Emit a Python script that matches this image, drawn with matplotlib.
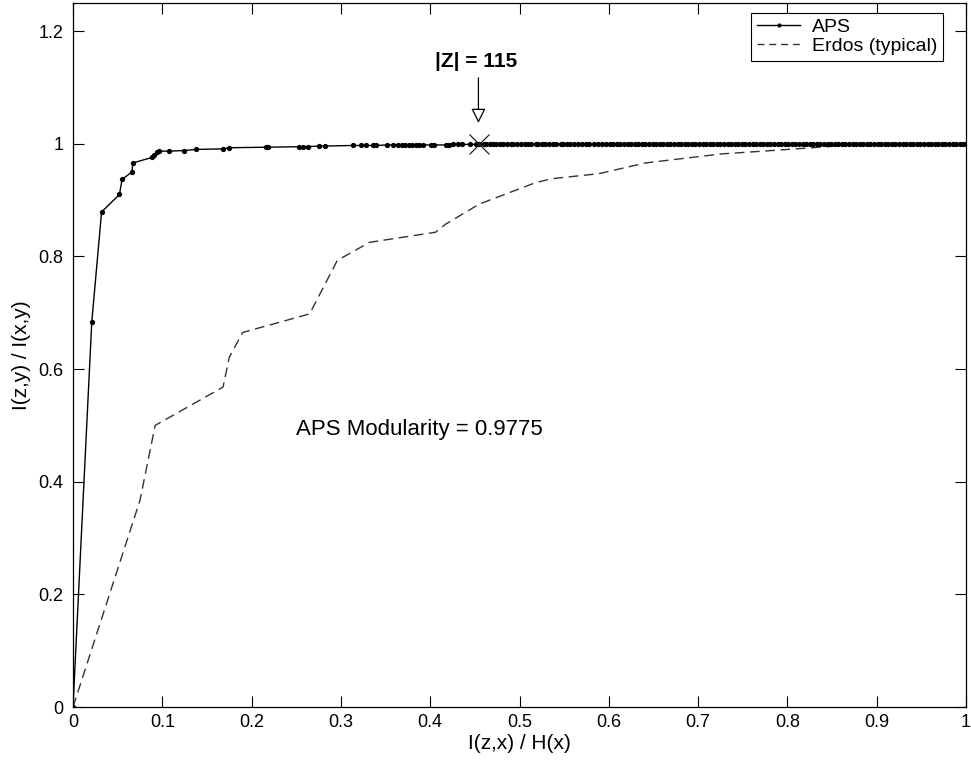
import numpy as np
import matplotlib
matplotlib.use("Agg")
import matplotlib.pyplot as plt

plt.rcParams['font.family'] = ['Liberation Sans', 'DejaVu Sans']

# APS curve, sparse head (read point by point)
aps_x = [0, 0.021, 0.032, 0.052, 0.055, 0.066, 0.067, 0.089, 0.091, 0.094,
         0.096, 0.107, 0.124, 0.138, 0.168, 0.175, 0.216, 0.218, 0.253, 0.257,
         0.263, 0.276, 0.282, 0.313, 0.323, 0.328, 0.336, 0.339, 0.352, 0.358,
         0.364, 0.368, 0.372, 0.376, 0.380, 0.384, 0.388, 0.392, 0.401, 0.404,
         0.418, 0.421, 0.425, 0.431, 0.436, 0.445, 0.451, 0.455]
aps_y = [0, 0.683, 0.879, 0.910, 0.937, 0.950, 0.966, 0.976, 0.980, 0.985,
         0.987, 0.987, 0.988, 0.990, 0.991, 0.993, 0.994, 0.994, 0.995, 0.995,
         0.995, 0.996, 0.996, 0.997, 0.997, 0.997, 0.997, 0.997, 0.998, 0.998,
         0.998, 0.998, 0.998, 0.998, 0.998, 0.998, 0.998, 0.998, 0.998, 0.998,
         0.998, 0.998, 0.999, 0.999, 0.999, 0.999, 0.999, 0.999]

# APS dense tail: stretches of dots, each sitting at one level
tail_x_a = [0.460, 0.463, 0.467, 0.470, 0.474, 0.478, 0.481, 0.486, 0.490, 0.493,
            0.497, 0.502, 0.506, 0.509, 0.513, 0.518, 0.521, 0.525, 0.529, 0.533,
            0.537, 0.541, 0.546, 0.549, 0.553, 0.557, 0.561, 0.566, 0.570, 0.574,
            0.578, 0.583, 0.588, 0.592, 0.597]
tail_y_a = 0.999
tail_x_b = [0.601, 0.605, 0.609, 0.613, 0.617, 0.621, 0.625, 0.629, 0.633, 0.637,
            0.641, 0.645, 0.649, 0.653, 0.657, 0.661, 0.665, 0.669, 0.673, 0.677,
            0.681, 0.685, 0.689, 0.693, 0.697, 0.701, 0.705, 0.709, 0.713, 0.717,
            0.721, 0.725, 0.729, 0.733, 0.737, 0.741, 0.745, 0.749, 0.753, 0.757,
            0.761, 0.765, 0.769, 0.773, 0.777, 0.781, 0.785, 0.789, 0.793, 0.797,
            0.801, 0.805, 0.809, 0.813, 0.817, 0.821, 0.825, 0.829, 0.833, 0.837,
            0.841, 0.845, 0.849, 0.853, 0.857, 0.861, 0.865, 0.869, 0.873, 0.877,
            0.881, 0.885, 0.889, 0.893, 0.897, 0.901, 0.905, 0.909, 0.913, 0.917,
            0.921, 0.925, 0.929, 0.933, 0.937, 0.941, 0.945, 0.949, 0.953, 0.957,
            0.961, 0.965, 0.969, 0.973, 0.977, 0.981, 0.985, 0.989, 0.993, 0.997,
            1.0]
tail_y_b = 1.0

# Erdos (typical) curve
erdos_x = [0, 0.075, 0.092, 0.168, 0.175, 0.190, 0.265, 0.296, 0.332, 0.406,
           0.417, 0.455, 0.518, 0.536, 0.589, 0.641, 0.726, 0.782, 0.846, 0.870, 1.0]
erdos_y = [0, 0.367, 0.500, 0.568, 0.621, 0.665, 0.698, 0.793, 0.825, 0.843,
           0.857, 0.893, 0.931, 0.938, 0.947, 0.966, 0.982, 0.988, 0.995, 1.0, 1.0]

z_point = (0.455, 1.0)
modularity_text = "APS Modularity = 0.9775"
z_text = "|Z| = 115"

x_all = np.concatenate([aps_x, tail_x_a, tail_x_b])
y_all = np.concatenate([aps_y,
                        np.full(len(tail_x_a), tail_y_a),
                        np.full(len(tail_x_b), tail_y_b)])

fig = plt.figure(figsize=(9.71, 7.74), dpi=100)
ax = fig.add_axes([73 / 971, 1 - 707 / 774, 893 / 971, 704 / 774])

ax.plot(erdos_x, erdos_y, color='#333333', lw=1.0, dashes=(7, 4),
        label='Erdos (typical)', zorder=2)
ax.plot(x_all, y_all, color='black', lw=1.0, marker='o', markersize=3.8,
        mew=0, label='APS', zorder=3)
ax.plot(*z_point, marker='x', markersize=14, mew=0.9, color='#222222', zorder=4)

ax.annotate('', xy=(0.454, 1.037), xytext=(0.454, 1.117),
            arrowprops=dict(arrowstyle='-|>', fc='white', ec='black', lw=0.9,
                            mutation_scale=22, shrinkA=0, shrinkB=0))
ax.text(0.451, 1.147, z_text, ha='center', va='center', fontsize=15,
        fontweight='bold')
ax.text(0.250, 0.492, modularity_text, ha='left', va='center', fontsize=16)

ax.set_xlim(0, 1)
ax.set_ylim(0, 1.25)
ax.set_xticks(np.arange(0, 1.01, 0.1))
ax.set_xticklabels(['0', '0.1', '0.2', '0.3', '0.4', '0.5', '0.6', '0.7',
                    '0.8', '0.9', '1'])
ax.set_yticks([0, 0.2, 0.4, 0.6, 0.8, 1.0, 1.2])
ax.set_yticklabels(['0', '0.2', '0.4', '0.6', '0.8', '1', '1.2'])
ax.tick_params(direction='in', length=8, width=0.8, labelsize=13,
               top=True, right=True, pad=5)
ax.tick_params(axis='y', pad=7)
for s in ax.spines.values():
    s.set_linewidth(0.9)

ax.set_xlabel('I(z,x) / H(x)', fontsize=15, labelpad=2)
ax.set_ylabel('I(z,y) / I(x,y)', fontsize=15, labelpad=5)

aps_handle = plt.Line2D([], [], color='black', lw=1.0, marker='o',
                        markersize=3, mew=0, markevery=[1])
erdos_handle = plt.Line2D([], [], color='#333333', lw=1.0, dashes=(5, 3.5))
leg = ax.legend([aps_handle, erdos_handle], ['APS', 'Erdos (typical)'],
                loc='upper right', bbox_to_anchor=(0.974, 0.986),
                borderaxespad=0, fontsize=14, fancybox=False,
                edgecolor='black', framealpha=1, handlelength=2.2,
                handletextpad=0.6, labelspacing=0.05, borderpad=0.3)
leg.get_frame().set_linewidth(0.8)

fig.savefig('out.png', dpi=100)
